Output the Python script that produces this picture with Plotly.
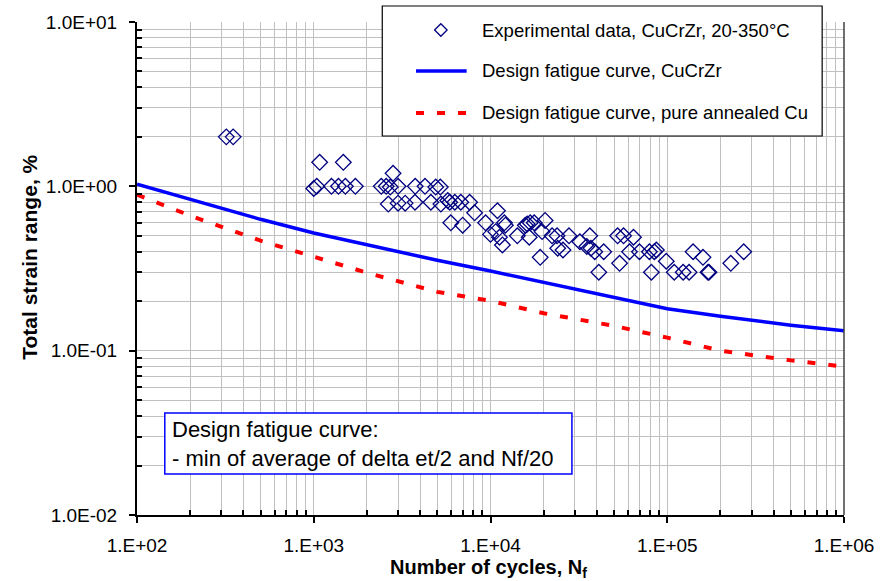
import plotly.graph_objects as go

# ---- Experimental fatigue data, CuCrZr (cycles to failure, total strain range %) ----
exp_cycles = [
    320, 350,
    1080, 1470,
    1000, 1040, 1260, 1380, 1510, 1720,
    2410, 2570, 2710, 3000, 3750, 4260, 4900, 5200,
    2810,
    2640, 3000, 3290, 3740, 4600, 5240, 5730, 5880, 6280, 6790, 7620,
    8130, 10950,
    5960, 6960, 9380, 11990, 12140, 15730, 16140, 16770, 17670, 20370,
    10000, 10700, 11240, 14180, 16560, 19600, 22300, 23790, 27790, 36460, 52370, 56600, 64420,
    11680, 32030, 35070,
    24000, 25710, 37000, 38900, 43700, 61170, 69600, 79250, 84530, 86750, 140000, 270800,
    19100, 53740, 98720, 159300, 228800,
    40990, 81310, 109500, 123000, 132900, 170000, 172200,
]
exp_strain = [
    2.0, 2.0,
    1.4, 1.4,
    0.97, 1.0, 1.0, 1.0, 1.0, 1.0,
    1.0, 1.0, 0.99, 1.0, 1.0, 1.0, 0.99, 0.99,
    1.2,
    0.78, 0.79, 0.79, 0.8, 0.8, 0.78, 0.82, 0.8, 0.8, 0.8, 0.8,
    0.69, 0.71,
    0.6, 0.58, 0.6, 0.6, 0.58, 0.58, 0.59, 0.6, 0.6, 0.62,
    0.51, 0.53, 0.49, 0.5, 0.49, 0.53, 0.5, 0.5, 0.5, 0.5, 0.5, 0.5, 0.49,
    0.44, 0.46, 0.43,
    0.42, 0.41, 0.42, 0.4, 0.4, 0.4, 0.4, 0.4, 0.4, 0.41, 0.4, 0.4,
    0.37, 0.34, 0.35, 0.37, 0.34,
    0.3, 0.3, 0.3, 0.3, 0.3, 0.3, 0.3,
]

# ---- Design fatigue curves ----
design_cycles = [100, 200, 500, 1000, 2000, 5000, 1e4, 2e4, 5e4, 1e5, 2e5, 5e5, 1e6]
design_cucrzr = [1.03, 0.83, 0.63, 0.52, 0.44, 0.355, 0.305, 0.26, 0.21, 0.18, 0.162, 0.143, 0.132]
design_cu = [0.89, 0.663, 0.467, 0.371, 0.298, 0.228, 0.201, 0.169, 0.1414, 0.12, 0.1, 0.0873, 0.08]

# ---- Axis ticks ----
x_tickvals = [1e2, 1e3, 1e4, 1e5, 1e6]
x_ticktext = ["1.E+02", "1.E+03", "1.E+04", "1.E+05", "1.E+06"]
y_tickvals = [0.01, 0.1, 1, 10]
y_ticktext = ["1.0E-02", "1.0E-01", "1.0E+00", "1.0E+01"]
x_minor = [m * 10 ** e for e in range(2, 6) for m in range(2, 10)]
y_minor = [m * 10 ** e for e in range(-2, 1) for m in range(2, 10)]

legend_labels = [
    "Experimental data, CuCrZr, 20-350°C",
    "Design fatigue curve, CuCrZr",
    "Design fatigue curve, pure annealed Cu",
]
note_text = "Design fatigue curve:<br>- min of average of delta et/2 and Nf/20"

FONT = "Arial, 'Liberation Sans', sans-serif"
NAVY = "#000080"
BLUE = "#0000FF"
RED = "#FF0000"
GRID = "#C0C0C0"

W, H = 886, 581
L, R, T, B = 137, 849, 22, 515


def fx(p):
    return (p - L) / (R - L)


def fy(p):
    return (B - p) / (B - T)


fig = go.Figure()

fig.add_trace(go.Scatter(
    x=design_cycles, y=design_cu, mode="lines",
    line=dict(color=RED, width=4, dash="8px,13px"),
    showlegend=False, hoverinfo="skip",
))
fig.add_trace(go.Scatter(
    x=design_cycles, y=design_cucrzr, mode="lines",
    line=dict(color=BLUE, width=3.5),
    showlegend=False, hoverinfo="skip",
))
fig.add_trace(go.Scatter(
    x=exp_cycles, y=exp_strain, mode="markers",
    marker=dict(symbol="diamond-open", size=12, color=NAVY,
                line=dict(color=NAVY, width=1.3)),
    showlegend=False,
))

axis_common = dict(
    type="log",
    showgrid=True, gridcolor=GRID, gridwidth=1.3,
    showline=True, linecolor="black", linewidth=2,
    ticks="outside", ticklen=6, tickcolor="black", tickwidth=1.5,
    tickfont=dict(family=FONT, size=19, color="black"),
    zeroline=False, tickmode="array",
)

fig.update_xaxes(
    range=[2, 6], tickvals=x_tickvals, ticktext=x_ticktext,
    ticklabelstandoff=6,
    minor=dict(tickmode="array", tickvals=x_minor, showgrid=True,
               gridcolor=GRID, gridwidth=1.3, ticks="inside", ticklen=5,
               tickcolor="black"),
    **axis_common,
)
fig.update_yaxes(
    range=[-2, 1], tickvals=y_tickvals, ticktext=y_ticktext,
    ticklabelstandoff=8,
    minor=dict(tickmode="array", tickvals=y_minor, showgrid=True,
               gridcolor=GRID, gridwidth=1.3, ticks="inside", ticklen=5,
               tickcolor="black"),
    **axis_common,
)

shapes = [
    # right frame edge
    dict(type="line", xref="paper", yref="paper", x0=1, x1=1, y0=0, y1=1,
         line=dict(color="#404040", width=1.5)),
    # legend box
    dict(type="rect", xref="paper", yref="paper",
         x0=fx(384), x1=fx(827), y0=fy(136), y1=fy(6),
         fillcolor="white", line=dict(color="black", width=1.2)),
    # legend samples
    dict(type="path", xref="paper", yref="paper",
         path=(f"M {fx(443 - 6.3)},{fy(30)} L {fx(443)},{fy(30 - 6.3)} "
               f"L {fx(443 + 6.3)},{fy(30)} L {fx(443)},{fy(30 + 6.3)} Z"),
         line=dict(color=NAVY, width=1.3)),
    dict(type="line", xref="paper", yref="paper",
         x0=fx(418), x1=fx(469), y0=fy(71), y1=fy(71),
         line=dict(color=BLUE, width=3.5)),
    dict(type="line", xref="paper", yref="paper",
         x0=fx(418), x1=fx(469), y0=fy(113), y1=fy(113),
         line=dict(color=RED, width=4, dash="8px,13px")),
    # note box
    dict(type="rect", xref="paper", yref="paper",
         x0=fx(165), x1=fx(575), y0=fy(474), y1=fy(413),
         fillcolor="white", line=dict(color=BLUE, width=1.5)),
]

annotations = []
for label, py in zip(legend_labels, [30, 71, 113]):
    annotations.append(dict(
        text=label, xref="paper", yref="paper", x=fx(482), y=fy(py),
        xanchor="left", yanchor="middle", showarrow=False,
        font=dict(family=FONT, size=18.5, color="black"),
    ))
annotations.append(dict(
    text=note_text, xref="paper", yref="paper", x=fx(170), y=fy(444),
    xanchor="left", yanchor="middle", align="left", showarrow=False,
    font=dict(family=FONT, size=22, color="black"),
))
annotations.append(dict(
    text="<b>Total strain range, %</b>", xref="paper", yref="paper",
    x=fx(28), y=fy(257), textangle=-90, xanchor="center", yanchor="middle",
    showarrow=False, font=dict(family=FONT, size=21, color="black"),
))
annotations.append(dict(
    text="<b>Number of cycles, N<sub>f</sub></b>", xref="paper", yref="paper",
    x=fx(491), y=fy(568), xanchor="center", yanchor="middle",
    showarrow=False, font=dict(family=FONT, size=20, color="black"),
))

fig.update_layout(
    width=W, height=H,
    margin=dict(l=L, r=W - R, t=T, b=H - B),
    paper_bgcolor="white", plot_bgcolor="white",
    showlegend=False,
    shapes=shapes, annotations=annotations,
    font=dict(family=FONT),
)

fig.write_html("out.html")
